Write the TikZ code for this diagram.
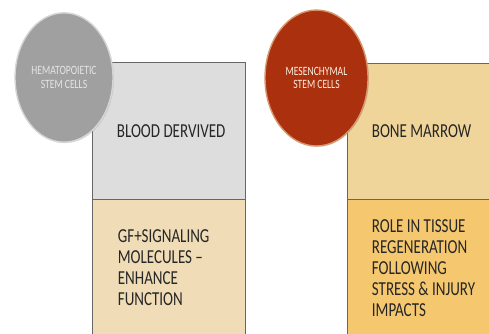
\documentclass[tikz,border=0pt]{standalone}
\usepackage{fontspec}
\setmainfont{Carlito}
\usetikzlibrary{positioning,shadows}

\definecolor{hspcgray}{RGB}{160,160,160}
\definecolor{hspcrim}{RGB}{214,214,214}
\definecolor{mscred}{RGB}{170,48,14}
\definecolor{mscrim}{RGB}{214,150,110}
\definecolor{bloodgray}{RGB}{221,221,221}
\definecolor{hspctan}{RGB}{240,221,183}
\definecolor{marrowtan}{RGB}{240,213,155}
\definecolor{regenorange}{RGB}{245,200,112}

\begin{document}
\begin{tikzpicture}[
    x=1pt, y=-0.7576pt, yscale=1.32,
    every node/.append style={transform shape},
    box/.style={draw=black!60, line width=0.6pt, rectangle, minimum height=103.5pt, inner sep=0pt},
    cell/.style={circle, line width=1.4pt, align=center, inner sep=0pt, font=\fontsize{9.6}{10}\selectfont, drop shadow={opacity=0.25, shadow xshift=1pt, shadow yshift=-1pt}},
    boxtext/.style={inner sep=0pt, align=left, font=\fontsize{15}{16}\selectfont, text=black!85}
]
\useasboundingbox (0,0) rectangle (489,333);

% ====================
%   Hematopoietic
% ====================

% Boxes
\node[box, fill=bloodgray, minimum width=153pt] (hspcup) at (168.5,131) {};
\node[box, fill=hspctan, minimum width=153pt] (hspclow) at (168.5,267.5) {};

% Circle
\node[cell, fill=hspcgray, draw=hspcrim, text=white!90!black, minimum size=98pt] (hspc) at (64,77.5) {HEMATOPOIETIC\\STEM CELLS};

% Texts
\node[boxtext, right=25pt of hspcup.west] (blood) {BLOOD DERVIVED};
\node[boxtext, right=26pt of hspclow.west] (gf) {GF+SIGNALING\\MOLECULES --\\ENHANCE\\FUNCTION};


% ====================
%   Mesenchymal
% ====================

% Boxes
\node[box, fill=marrowtan, minimum width=148pt] (mscup) at (421,131.5) {};
\node[box, fill=regenorange, minimum width=148pt] (msclow) at (421,268) {};

% Circle
\node[cell, fill=mscred, draw=mscrim, text=white!88!orange, minimum size=103pt] (msc) at (316.5,78) {MESENCHYMAL\\STEM CELLS};

% Texts
\node[boxtext, right=25pt of mscup.west] (marrow) {BONE MARROW};
\node[boxtext, right=25pt of msclow.west] (regen) {ROLE IN TISSUE\\REGENERATION\\FOLLOWING\\STRESS \& INJURY\\IMPACTS};

\end{tikzpicture}
\end{document}
